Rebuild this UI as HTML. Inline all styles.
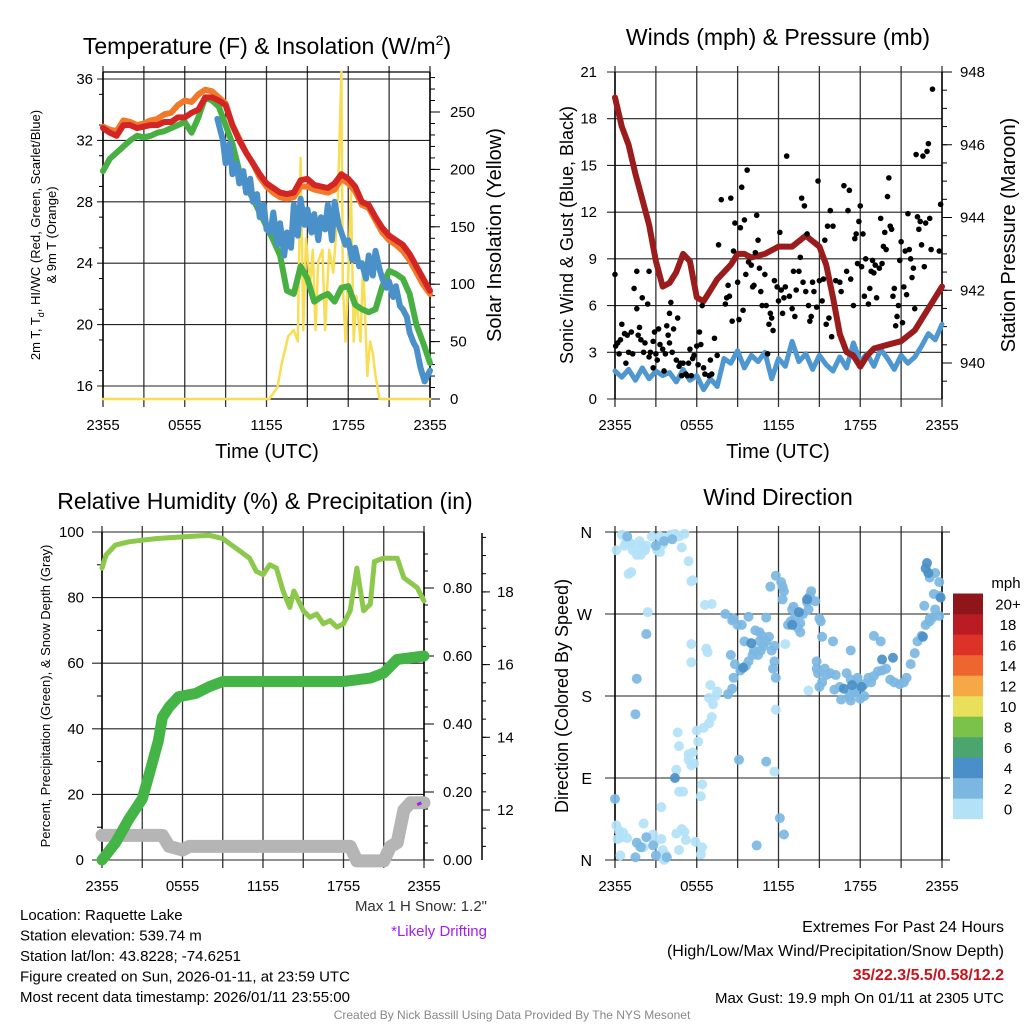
<!DOCTYPE html>
<html><head><meta charset="utf-8"><style>
html,body{margin:0;padding:0;background:#fff;}
svg{display:block;font-family:"Liberation Sans",sans-serif;}
</style></head><body>
<svg id="s" width="1024" height="1024" viewBox="0 0 1024 1024"></svg>
<script>
// ---------- DATA ----------
const tempHours=[0,0.5,1,1.5,2,2.5,3,3.5,4,4.5,5,5.5,6,6.5,7,7.5,8,8.5,9,9.5,10,10.5,11,11.5,12,12.5,13,13.5,14,14.5,15,15.5,16,16.5,17,17.5,18,18.5,19,19.5,20,20.5,21,21.5,22,22.5,23,23.5,24];
const tempRed=[32.8,32.5,32.3,33.0,33.0,32.8,32.9,33.0,33.0,33.2,33.2,33.5,33.5,33.8,34.0,34.8,34.8,34.6,34.3,33.0,32.0,31.2,30.5,29.8,29.2,28.9,28.6,28.5,28.6,29.4,29.5,29.1,29.0,28.9,29.2,29.8,29.5,29.0,28.0,27.8,27.0,26.3,25.8,25.5,25.2,24.6,23.8,23.0,22.2];
const tempOrange=[32.9,32.7,32.6,33.3,33.2,33.0,33.1,33.3,33.4,33.7,33.8,34.3,34.6,34.5,35.0,35.3,35.2,34.8,34.4,33.0,32.1,31.2,30.5,29.6,29.0,28.6,28.3,28.2,28.3,29.0,29.0,28.8,28.7,28.6,28.8,29.5,29.2,28.7,27.8,27.6,26.8,26.0,25.5,25.2,24.8,24.2,23.4,22.6,22.0];
const tempGreen=[30.0,30.8,31.2,31.6,32.0,32.3,32.2,32.3,32.5,32.6,32.8,33.0,33.2,32.5,33.5,34.8,34.6,34.2,33.0,31.8,30.0,29.0,28.2,27.3,26.4,25.5,24.5,22.2,22.0,23.8,23.0,21.5,21.8,22.0,21.5,22.4,22.5,21.3,21.0,20.8,21.0,22.5,23.5,23.3,23.0,22.0,20.0,18.8,17.5];
const wcHours=[8.4,8.8,9,9.3,9.5,9.8,10,10.3,10.5,10.8,11,11.3,11.5,11.8,12,12.3,12.5,12.8,13,13.3,13.5,13.8,14,14.3,14.5,14.8,15,15.3,15.5,15.8,16,16.3,16.5,16.8,17,17.3,17.5,17.8,18,18.3,18.5,18.8,19,19.3,19.5,19.8,20,20.3,20.5,20.8,21,21.3,21.5,21.8,22,22.3,22.5,22.8,23,23.3,23.6,24];
const wcBlue=[33.4,32.0,30.5,31.8,29.8,30.5,29.2,30.0,28.6,29.5,28.0,28.5,27.0,27.8,26.2,26.0,27.3,25.2,26.6,24.5,26.0,25.0,27.8,25.8,28.2,26.5,27.5,26.0,27.2,25.5,27.0,26.2,27.8,25.5,28.0,26.5,26.0,25.2,25.5,24.2,25.0,23.8,24.0,23.0,24.5,23.2,24.8,23.6,23.0,22.4,22.8,21.8,22.5,21.2,21.0,20.5,19.5,18.8,18.5,17.2,16.3,17.0];
const solarHours=[0,12.2,12.8,13.1,13.6,14.0,14.3,14.5,14.7,14.9,15.2,15.4,15.6,15.8,16.1,16.3,16.6,16.9,17.2,17.5,17.6,17.8,18.0,18.2,18.4,18.6,18.9,19.1,19.4,19.6,19.8,20.0,20.3,24];
const solarVals=[0,0,10,30,55,60,50,210,60,140,100,130,60,120,130,60,130,110,160,285,100,50,110,180,50,90,50,120,20,50,40,20,0,0];

const presHours=[0,0.5,1,1.5,2,2.5,3,3.5,4,4.5,5,5.5,6,6.5,7,7.5,8,8.5,9,9.5,10,11,11.5,12,13,14,15,15.5,16,16.5,17,17.5,18,18.5,19,20,21,22,23,24];
const presVals=[947.3,946.5,946.0,945.2,944.5,943.8,942.8,942.1,942.2,942.5,943.0,942.8,941.8,941.7,942.0,942.3,942.5,942.7,943.0,943.0,942.9,943.0,943.1,943.2,943.2,943.5,943.2,942.7,941.8,940.8,940.3,940.2,939.9,940.2,940.4,940.5,940.6,940.9,941.5,942.1];
const windVals=[1.8,1.4,1.9,1.2,2.0,1.3,1.8,1.5,1.7,1.1,1.9,1.2,1.5,0.6,1.3,0.8,2.6,2.3,3.1,2.0,2.8,2.4,3.0,1.3,2.6,2.1,3.7,2.4,2.9,1.9,2.8,2.2,1.8,2.7,2.0,3.6,2.4,2.9,2.1,3.2,2.6,1.9,2.8,2.3,2.7,3.4,4.2,3.8,4.8];
const gustHours=[0,0.05,0.2,0.3,0.4,0.5,0.7,0.8,0.9,1.0,1.2,1.3,1.4,1.6,1.6,1.7,1.8,1.9,2.0,2.1,2.2,2.4,2.5,2.5,2.6,2.8,2.8,2.9,3.0,3.1,3.2,3.3,3.5,3.6,3.7,3.8,3.9,4.0,4.0,4.1,4.2,4.3,4.5,4.6,4.7,4.8,4.9,5.0,5.2,5.3,5.4,5.5,5.6,5.7,5.8,6.0,6.1,6.2,6.3,6.4,6.5,6.6,6.9,7.0,7.1,7.3,7.5,7.6,7.8,8.1,8.2,8.3,8.4,8.5,8.6,8.7,8.8,9.0,9.1,9.2,9.3,9.4,9.5,9.6,9.7,9.8,10.0,10.1,10.2,10.3,10.4,10.5,10.6,10.7,10.8,11.0,11.1,11.2,11.3,11.4,11.5,11.6,11.7,11.9,12.0,12.1,12.2,12.3,12.4,12.5,12.6,12.8,13.0,13.1,13.2,13.3,13.5,13.6,13.7,13.8,13.9,14.0,14.1,14.2,14.3,14.4,14.5,14.6,14.8,14.9,15.0,15.2,15.3,15.4,15.5,15.6,15.7,15.8,15.9,16.0,16.2,16.5,16.6,16.8,17.0,17.1,17.2,17.3,17.5,17.6,17.7,17.8,17.9,18.0,18.1,18.2,18.3,18.4,18.6,18.7,18.8,18.9,19.0,19.1,19.2,19.4,19.5,19.6,19.7,19.8,19.9,20.0,20.1,20.2,20.3,20.4,20.5,20.6,20.7,20.8,20.9,21.0,21.1,21.2,21.3,21.4,21.5,21.6,21.7,21.8,21.9,22.0,22.1,22.2,22.3,22.4,22.5,22.6,22.7,22.8,22.9,23.0,23.1,23.2,23.3,23.9,23.8];
const gustVals=[8,3.4,3.6,2.9,3.8,4.8,4.2,2.3,4.1,3.0,4.3,2.9,7.1,8.2,5.8,4.1,4.6,3.8,6.5,3.0,3.6,6.1,2.7,8.2,3.0,3.7,2.0,4.3,2.9,2.5,4.5,3.5,3.2,1.8,2.9,4.7,4.1,5.5,3.6,6.2,3.0,4.5,2.5,5.2,2.1,2.3,1.5,2.3,1.6,1.5,2.3,3.2,1.5,2.6,2.8,3.4,2.2,4.3,3.5,6.0,2.0,1.6,1.5,2.5,1.6,3.9,2.8,9.9,12.8,6.1,6.5,7.3,6.6,12.9,5.0,9.5,11.3,7.5,5.1,11.0,13.6,5.7,11.5,8.0,14.7,8.8,8.6,7.2,7.3,9.4,11.8,10.2,8.4,6.9,6.0,8.0,6.0,2.9,4.8,5.5,5.2,4.4,7.6,7.2,6.3,10.7,7.0,5.5,6.5,7.2,15.6,6.6,5.8,8.2,5.3,7.0,8.2,9.1,12.9,7.5,12.4,6.9,10.6,6.0,5.0,5.3,7.5,6.9,5.9,14.0,7.6,6.3,7.7,10.2,4.8,11.1,5.2,12.1,4.0,11.1,7.6,7.5,6.9,13.7,8.2,12.1,13.4,7.7,6.0,10.3,10.6,8.7,11.4,12.4,8.5,10.6,6.6,9.0,6.1,7.1,8.2,8.9,8.1,8.6,6.5,8.4,11.6,8.7,9.8,10.7,9.6,13.0,14.2,11.1,10.9,6.6,7.1,4.7,5.3,6.0,8.9,10.1,4.9,7.2,9.5,6.7,11.9,9.6,9.0,7.8,8.4,5.8,15.7,11.7,10.9,11.4,9.9,15.6,8.5,11.3,15.9,16.4,11.6,9.6,19.9,12.5,9.5];

// wind direction, grouped by speed class (0-2, 2-4, 4-6 mph)
const lightHours=[0.1,0.5,0.8,0.7,1.1,1.2,1.3,1.8,1.9,2.1,2.2,2.3,1.9,2.7,1.6,1.0,1.2,2.4,3.1,3.3,3.4,3.8,4.1,4.4,4.7,4.9,5.1,3.3,3.5,5.4,5.6,5.7,6.6,7.1,5.6,5.6,5.4,5.4,5.6,5.7,5.8,4.6,4.7,4.5,4.7,5.0,6.0,6.1,6.3,6.4,6.5,6.9,7.1,7.2,7.4,7.5,6.9,7.0,6.7,6.8,5.9,6.4,6.3,4.9,5.1,4.5,5.2,4.7,3.7,3.6,1.8,2.1,2.8,2.9,2.1,0.4,0.6,0.5,0.2,0.1,0.3,3.4,3.3,3.5,3.4,0.9,12.5,11.7,11.8,14.2];
const lightDeg=[340,357,348,345,348,347,340,350,345,342,340,345,335,355,335,314,316,272,340,355,350,354,357,358,355,343,358,338,346,328,306,307,280,281,237,217,116,110,104,118,106,140,125,99,75,75,142,130,70,83,145,150,157,171,180,185,178,192,232,228,20,14,6,34,31,29,22,11,6,0,15,14,28,19,40,5,30,25,23,38,32,23,5,11,58,24,237,97,165,186];
const midHours=[0.9,3.0,3.6,4.2,2.3,1.6,1.5,0.0,1.9,1.5,2.8,1.6,2.3,3.0,3.8,
8.1,8.6,8.7,9.0,8.3,8.7,8.8,8.5,9.2,9.6,9.3,9.8,10.3,10.6,10.8,10.9,10.6,10.2,10.1,9.8,10.5,10.7,11.1,11.3,11.1,11.5,11.7,11.7,11.6,11.8,12.2,12.3,12.4,12.7,12.9,13.2,13.4,13.6,13.0,13.1,13.6,13.8,14.1,14.2,14.4,14.3,14.7,15.0,15.1,15.2,14.8,14.8,14.9,15.0,15.2,15.5,15.8,16.2,16.5,17.0,17.3,17.5,17.8,18.0,18.3,18.6,18.8,19.0,19.3,19.6,19.9,20.2,20.5,20.9,21.2,21.4,21.7,22.0,22.2,22.5,22.8,23.1,23.3,23.5,23.8,23.8,23.5,23.8,23.1,23.4,22.7,23.1,12.1,12.4,10.4,9.1,8.6,9.5,11.1,11.4,11.8,12.3,16.1,17.2,17.6,18.0,18.3,15.4,16.0,17.3,19.0,19.5,17.8,16.6,17.3];
const midDeg=[355,345,350,352,248,199,160,67,14,3,16,19,25,5,3,
270,263,265,258,182,200,215,225,208,213,258,267,252,250,246,235,240,230,225,218,225,230,240,245,266,230,235,218,210,200,305,300,295,258,262,266,255,250,275,278,260,270,283,275,295,290,284,265,262,245,218,210,205,190,195,203,205,203,190,205,198,185,196,190,193,200,195,202,207,208,210,198,195,193,195,200,215,227,240,246,258,262,266,275,268,290,315,305,310,292,279,265,46,28,16,110,188,240,108,300,312,286,187,180,184,177,180,210,240,230,246,240,200,176,175];
const darkHours=[10.0,9.4,13.0,13.5,14.1,17.4,18.1,19.6,20.4,22.9,23.0,23.9,22.6,22.8,16.8,4.4];
const darkDeg=[238,211,258,272,286,192,190,220,222,326,315,288,245,320,188,90];

const rhHours=[0,0.3,1,2,3,4,6,8,9,10,11,11.5,12,12.5,13,13.5,14,14.3,15,15.5,16,16.5,17,17.5,18,18.5,19,19.5,20,20.3,21,22,22.5,23.5,24];
const rhVals=[89,93,96,97,97.5,98,98.5,99,98,95,92,88,87,90,89,82,77,82,76,74,75,72,73,71,72,76,89,76,78,91,92,92,86,83,79];
const precipHours=[0,1,2,3,3.5,4.2,4.5,5,5.7,7,8,9,18,19,20,21,22,24];
const precipVals=[0,0.05,0.12,0.18,0.25,0.35,0.42,0.45,0.48,0.49,0.51,0.525,0.525,0.53,0.535,0.55,0.59,0.60];
const snowHours=[0,2,4.5,5,6,6.5,18.5,19,21,21.5,22,22.5,23,24];
const snowVals=[11.3,11.3,11.3,11.0,10.9,11.0,11.0,10.6,10.6,11.0,11.1,12.0,12.2,12.2];
const timeLabels=["2355","0555","1155","1755","2355"];
const tempTicks=[16,20,24,28,32,36];
const solarTicks=[0,50,100,150,200,250];
const windTicks=[0,3,6,9,12,15,18,21];
const presTicks=[940,942,944,946,948];
const rhTicks=[0,20,40,60,80,100];
const precipTicks=[0,0.2,0.4,0.6,0.8];
const snowTicks=[12,14,16,18];
const dirLabels=["N","E","S","W","N"];
const legendLabels=["0","2","4","6","8","10","12","14","16","18","20+"];
const legendColors=["#b3e2f7","#7cb7e2","#4a8fc7","#4aa56e","#7ac24a","#e8e05a","#f5a845","#ef6530","#dd3227","#b91c22","#8e1519"];
const speedColors=["#b3e2f7","#7cb7e2","#4a8fc7"];

// ---------- HELPERS ----------
const NS="http://www.w3.org/2000/svg";
const S=document.getElementById('s');
function el(tag,attrs,parent){const e=document.createElementNS(NS,tag);for(const k in attrs)e.setAttribute(k,attrs[k]);(parent||S).appendChild(e);return e;}
function txt(x,y,s,size,anchor,extra){const t=el('text',Object.assign({x:x,y:y,'font-size':size,'text-anchor':anchor||'middle',fill:'#000'},extra||{}));t.textContent=s;return t;}
function line(x1,y1,x2,y2,c,w){return el('line',{x1:x1,y1:y1,x2:x2,y2:y2,stroke:c,'stroke-width':w});}
function poly(xs,ys,fx,fy,c,w){let d='';for(let i=0;i<xs.length;i++){d+=(i?'L':'M')+fx(xs[i]).toFixed(1)+','+fy(ys[i]).toFixed(1);}return el('path',{d:d,fill:'none',stroke:c,'stroke-width':w,'stroke-linejoin':'round','stroke-linecap':'round'});}

function timeAxis(x0,x1,yTop,yBot,labelY){
  for(let i=0;i<=8;i++){const x=x0+(x1-x0)*i/8;const l=line(x,yTop-6,x,yBot+8,'#333',1.3);}
  timeLabels.forEach((l,i)=>{const t=txt(x0+(x1-x0)*i/4,labelY,l,15);});
}

// ---------- PANEL 1 ----------
(function(){
  const x0=103,x1=430,yT=72,yB=399;
  const fx=h=>x0+(x1-x0)*h/24;
  const fy=v=>386-(v-16)*(307/20);
  const fs=v=>399-v*(287/250);
  const t=txt(267,54,'Temperature (F) & Insolation (W/m',23);
  
  
  const sup=el('tspan',{dy:-9,'font-size':14},t);sup.textContent='2';
  const cl=el('tspan',{dy:9},t);cl.textContent=')';
  timeAxis(x0,x1,yT,yB,430);
  tempTicks.forEach(v=>{line(x0-6,fy(v),x1,fy(v),'#222',1.1);const l=txt(x0-10,fy(v)+5,String(v),15,'end');});
  for(let v=17;v<36;v+=2){line(x0-4,fy(v),x0,fy(v),'#000',1);}
  solarTicks.forEach(v=>{line(x1,fs(v),x1+10,fs(v),'#000',1);const l=txt(x1+20,fs(v)+5,String(v),15,'start');});
  for(let v=10;v<285;v+=10){line(x1,fs(v),x1+5,fs(v),'#000',1);}
  line(x0,yT,x1,yT,'#000',1.2);line(x0,yB,x1,yB,'#000',1.2);
  line(x0,yT,x0,yB,'#000',1.5);line(x1,yT,x1,yB,'#000',1.5);
  const sl=poly(solarHours,solarVals,fx,fs,'#f8de55',2.5);
  const g=poly(tempHours,tempGreen,fx,fy,'#48b043',6);
  const o=poly(tempHours,tempOrange,fx,fy,'#f07a2a',6);
  const r=poly(tempHours,tempRed,fx,fy,'#d42525',6);
  const b=poly(wcHours,wcBlue,fx,fy,'#4a90c9',6);
  const yl=txt(0,0,'2m T, T',13,'middle',{transform:'translate(40,235) rotate(-90)'});
  
  const sb=el('tspan',{dy:4,'font-size':9},yl);sb.textContent='d';
  const rest=el('tspan',{dy:-4},yl);rest.textContent=', HI/WC (Red, Green, Scarlet/Blue)';
  const yl2=txt(0,0,'& 9m T (Orange)',13,'middle',{transform:'translate(56,235) rotate(-90)'});
  
  const yr=txt(0,0,'Solar Insolation (Yellow)',20,'middle',{transform:'translate(501,235) rotate(-90)'});
  
  const xt=txt(267,458,'Time (UTC)',20);
})();

// ---------- PANEL 2 ----------
(function(){
  const x0=615,x1=942,yT=72,yB=399;
  const fx=h=>x0+(x1-x0)*h/24;
  const fy=v=>399-v*(327/21);
  const fp=p=>363-(p-940)*(291/8);
  const t=txt(778,45,'Winds (mph) & Pressure (mb)',23);
  timeAxis(x0,x1,yT,yB,430);
  windTicks.forEach(v=>{line(x0-8,fy(v),x1,fy(v),'#222',1.1);const l=txt(x0-18,fy(v)+5,String(v),15,'end');});
  presTicks.forEach(v=>{line(x1,fp(v),x1+10,fp(v),'#000',1);const l=txt(x1+18,fp(v)+5,String(v),15,'start');});
  for(let v=939.5;v<948;v+=0.5){line(x1,fp(v),x1+5,fp(v),'#000',1);}
  line(x0,yT,x0,yB,'#000',1.5);line(x1,yT,x1,yB,'#000',1.5);
  const hrs=windVals.map((v,i)=>i*0.5);
  const w=poly(hrs,windVals,fx,fy,'#4f97d0',5);
  const p=poly(presHours,presVals,fx,fp,'#9b1c1c',6);
  const gg=el('g',{});
  
  
  gustHours.forEach((h,i)=>{const c=el('circle',{cx:fx(h),cy:fy(gustVals[i]),r:2.8,fill:'#000'},gg);});
  const yl=txt(0,0,'Sonic Wind & Gust (Blue, Black)',18,'middle',{transform:'translate(573,235) rotate(-90)'});
  const yr=txt(0,0,'Station Pressure (Maroon)',20,'middle',{transform:'translate(1015,235) rotate(-90)'});
  const xt=txt(778,458,'Time (UTC)',20);
})();

// ---------- PANEL 3 ----------
(function(){
  const x0=102,x1=424,yT=532,yB=860;
  const fx=h=>x0+(x1-x0)*h/24;
  const fy=v=>860-v*3.28;
  const fpr=p=>860-p*340;
  const fsn=s=>810-(s-12)*36.35;
  const t=txt(265,509,'Relative Humidity (%) & Precipitation (in)',23);
  timeAxis(x0,x1,yT,yB,891);
  rhTicks.forEach(v=>{line(x0-10,fy(v),x1,fy(v),'#222',1.1);const l=txt(x0-18,fy(v)+5,String(v),15,'end');});
  for(let v=10;v<100;v+=20){line(x0-5,fy(v),x0,fy(v),'#000',1);}
  precipTicks.forEach(v=>{line(x1,fpr(v),x1+10,fpr(v),'#000',1);const l=txt(x1+19,fpr(v)+5,v.toFixed(2),15,'start');});
  for(let v=0.05;v<0.95;v+=0.05){line(x1,fpr(v),x1+4,fpr(v),'#000',1);}
  line(482,533,482,860,'#000',1.5);
  snowTicks.forEach(v=>{line(482,fsn(v),490,fsn(v),'#000',1);const l=txt(497,fsn(v)+5,String(v),15,'start');});
  for(let v=11;v<19.6;v+=0.5){line(482,fsn(v),486,fsn(v),'#000',1);}
  line(x0,yT,x0,yB,'#000',1.5);line(x1,yT,x1,yB,'#000',1.5);
  const sn=poly(snowHours,snowVals,fx,fsn,'#b5b5b5',13);
  const pr=poly(precipHours,precipVals,fx,fpr,'#45b446',11);
  const rh=poly(rhHours,rhVals,fx,fy,'#8cc84b',5);
  const dr=el('path',{d:'M'+fx(23.5)+','+(fsn(12.2)+2)+'L'+fx(23.8)+','+(fsn(12.2)),stroke:'#a020f0','stroke-width':3,fill:'none'});
  
  
  const yl=txt(0,0,'Percent, Precipitation (Green), & Snow Depth (Gray)',13,'middle',{transform:'translate(50,696) rotate(-90)'});
})();

// ---------- PANEL 4 ----------
(function(){
  const x0=615,x1=942,yT=532,yB=860;
  const fx=h=>x0+(x1-x0)*h/24;
  const fd=d=>860-d*(328/360);
  const t=txt(778,505,'Wind Direction',23);
  timeAxis(x0,x1,yT,yB,891);
  dirLabels.forEach((l,i)=>{const y=fd(i*90);line(x0-10,y,x1+8,y,'#222',1.1);const tl=txt(x0-23,y+6,l,16,'end');});
  line(x0,yT,x0,yB,'#000',1.5);line(x1,yT,x1,yB,'#000',1.5);
  const gg=el('g',{});
  
  
  [[lightHours,lightDeg,0],[midHours,midDeg,1],[darkHours,darkDeg,2]].forEach(([hs,ds,k])=>{
    hs.forEach((h,i)=>{if(ds[i]===undefined)return;const c=el('circle',{cx:fx(h),cy:fd(ds[i]),r:5,fill:speedColors[k],'fill-opacity':0.92},gg);});
  });
  const yl=txt(0,0,'Direction (Colored By Speed)',18,'middle',{transform:'translate(568,696) rotate(-90)'});
  const lg=el('g',{});
  
  
  const mt=txt(1006,588,'mph',15);
  legendColors.forEach((c,i)=>{const y=819-(i+1)*20.5;const r=el('rect',{x:953,y:y,width:30,height:20.7,fill:c},lg);const l=txt(1008,y+16,legendLabels[i],15,'middle');});
})();

// ---------- TEXT ----------
const info=["Location: Raquette Lake","Station elevation: 539.74 m","Station lat/lon: 43.8228; -74.6251","Figure created on Sun, 2026-01-11, at 23:59 UTC","Most recent data timestamp: 2026/01/11 23:55:00"];
info.forEach((s,i)=>{const t=txt(20,920+i*20.5,s,15,'start');});
const ms=txt(487,911,'Max 1 H Snow: 1.2"',15,'end',{fill:'#333'});
const ld=txt(487,936,'*Likely Drifting',15,'end',{fill:'#a020f0'});
const e1=txt(1004,932,'Extremes For Past 24 Hours',16,'end');
const e2=txt(1004,956,'(High/Low/Max Wind/Precipitation/Snow Depth)',16,'end');
const e3=txt(1004,980,'35/22.3/5.5/0.58/12.2',16,'end',{fill:'#c8141e','font-weight':'bold'});
const e4=txt(1004,1003,'Max Gust: 19.9 mph On 01/11 at 2305 UTC',15,'end');
const ft=txt(512,1019,'Created By Nick Bassill Using Data Provided By The NYS Mesonet',12,'middle',{fill:'#888'});
</script>
</body></html>
